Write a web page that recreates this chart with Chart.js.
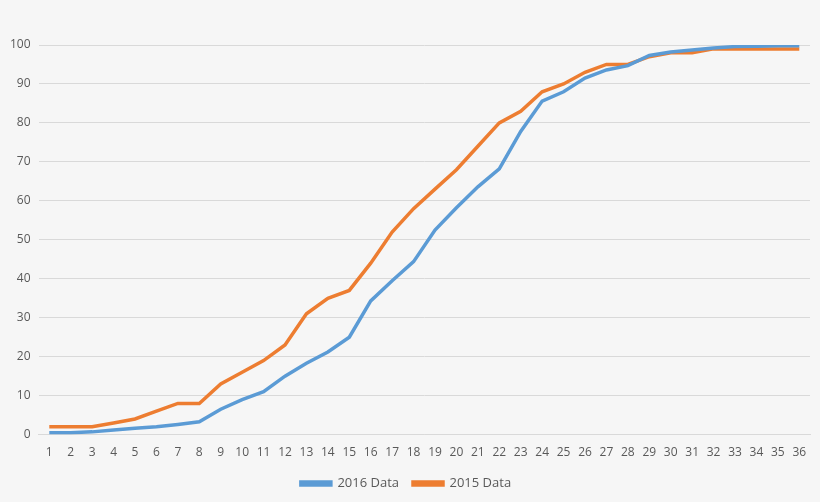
<!DOCTYPE html>
<html>
<head>
<meta charset="utf-8">
<script src="https://cdn.jsdelivr.net/npm/chart.js@4"></script>
<style>
  body { margin: 0; background: #f6f6f6; }
  #wrap { width: 820px; height: 502px; }
</style>
</head>
<body>
<div id="wrap"><canvas id="chart"></canvas></div>
<script>
var labels = [];
for (var i = 1; i <= 36; i++) labels.push(String(i));

var data2016 = [0.5, 0.5, 0.7, 1.2, 1.6, 2, 2.6, 3.3, 6.5, 9, 11, 15, 18.3, 21.2, 25, 34.3, 39.5, 44.4,
    52.5, 58.2, 63.6, 68.2, 77.8, 85.6, 88, 91.5, 93.6, 94.7, 97.3, 98.2, 98.7, 99.2, 99.6, 99.7, 99.8, 99.8];
var data2015 = [2, 2, 2, 3, 4, 6, 8, 8, 13, 16, 19, 23, 31, 35, 37, 44, 52, 58,
    63, 68, 74, 80, 83, 88, 90, 93, 95, 95, 97, 98, 98, 99, 99, 99, 99, 99];

var chart = new Chart(document.getElementById('chart'), {
    type: 'line',
    data: {
        labels: labels,
        datasets: [
            {
                label: '2016 Data',
                data: data2016,
                borderColor: "#5b9bd5",
                backgroundColor: "#5b9bd5",
            },
            {
                label: '2015 Data',
                data: data2015,
                borderColor: "#ed7d31",
                backgroundColor: "#ed7d31",
            }
        ]
    },
    options: {
        responsive: true,
        maintainAspectRatio: false,
        animation: false,
        layout: { padding: { left: 2, right: 10, top: 45, bottom: 2 } },
        elements: {
            line: { borderWidth: 3.5, tension: 0 },
            point: { radius: 0 }
        },
        scales: {
            x: {
                offset: true,
                grid: { display: false },
                border: { color: '#d9d9d9' },
                ticks: { color: '#595959', font: { family: 'Open Sans', size: 12 }, maxRotation: 0, autoSkip: false }
            },
            y: {
                min: 0,
                max: 100,
                ticks: { stepSize: 10, color: '#595959', font: { family: 'Open Sans', size: 12 }, padding: 8 },
                grid: { color: '#d9d9d9', drawTicks: false },
                border: { display: false }
            }
        },
        plugins: {
            legend: {
                position: 'bottom',
                labels: {
                    boxWidth: 30,
                    boxHeight: 3,
                    color: '#595959',
                    font: { family: 'Open Sans', size: 13 },
                    padding: 14
                }
            }
        }
    },
})
</script>
</body>
</html>
